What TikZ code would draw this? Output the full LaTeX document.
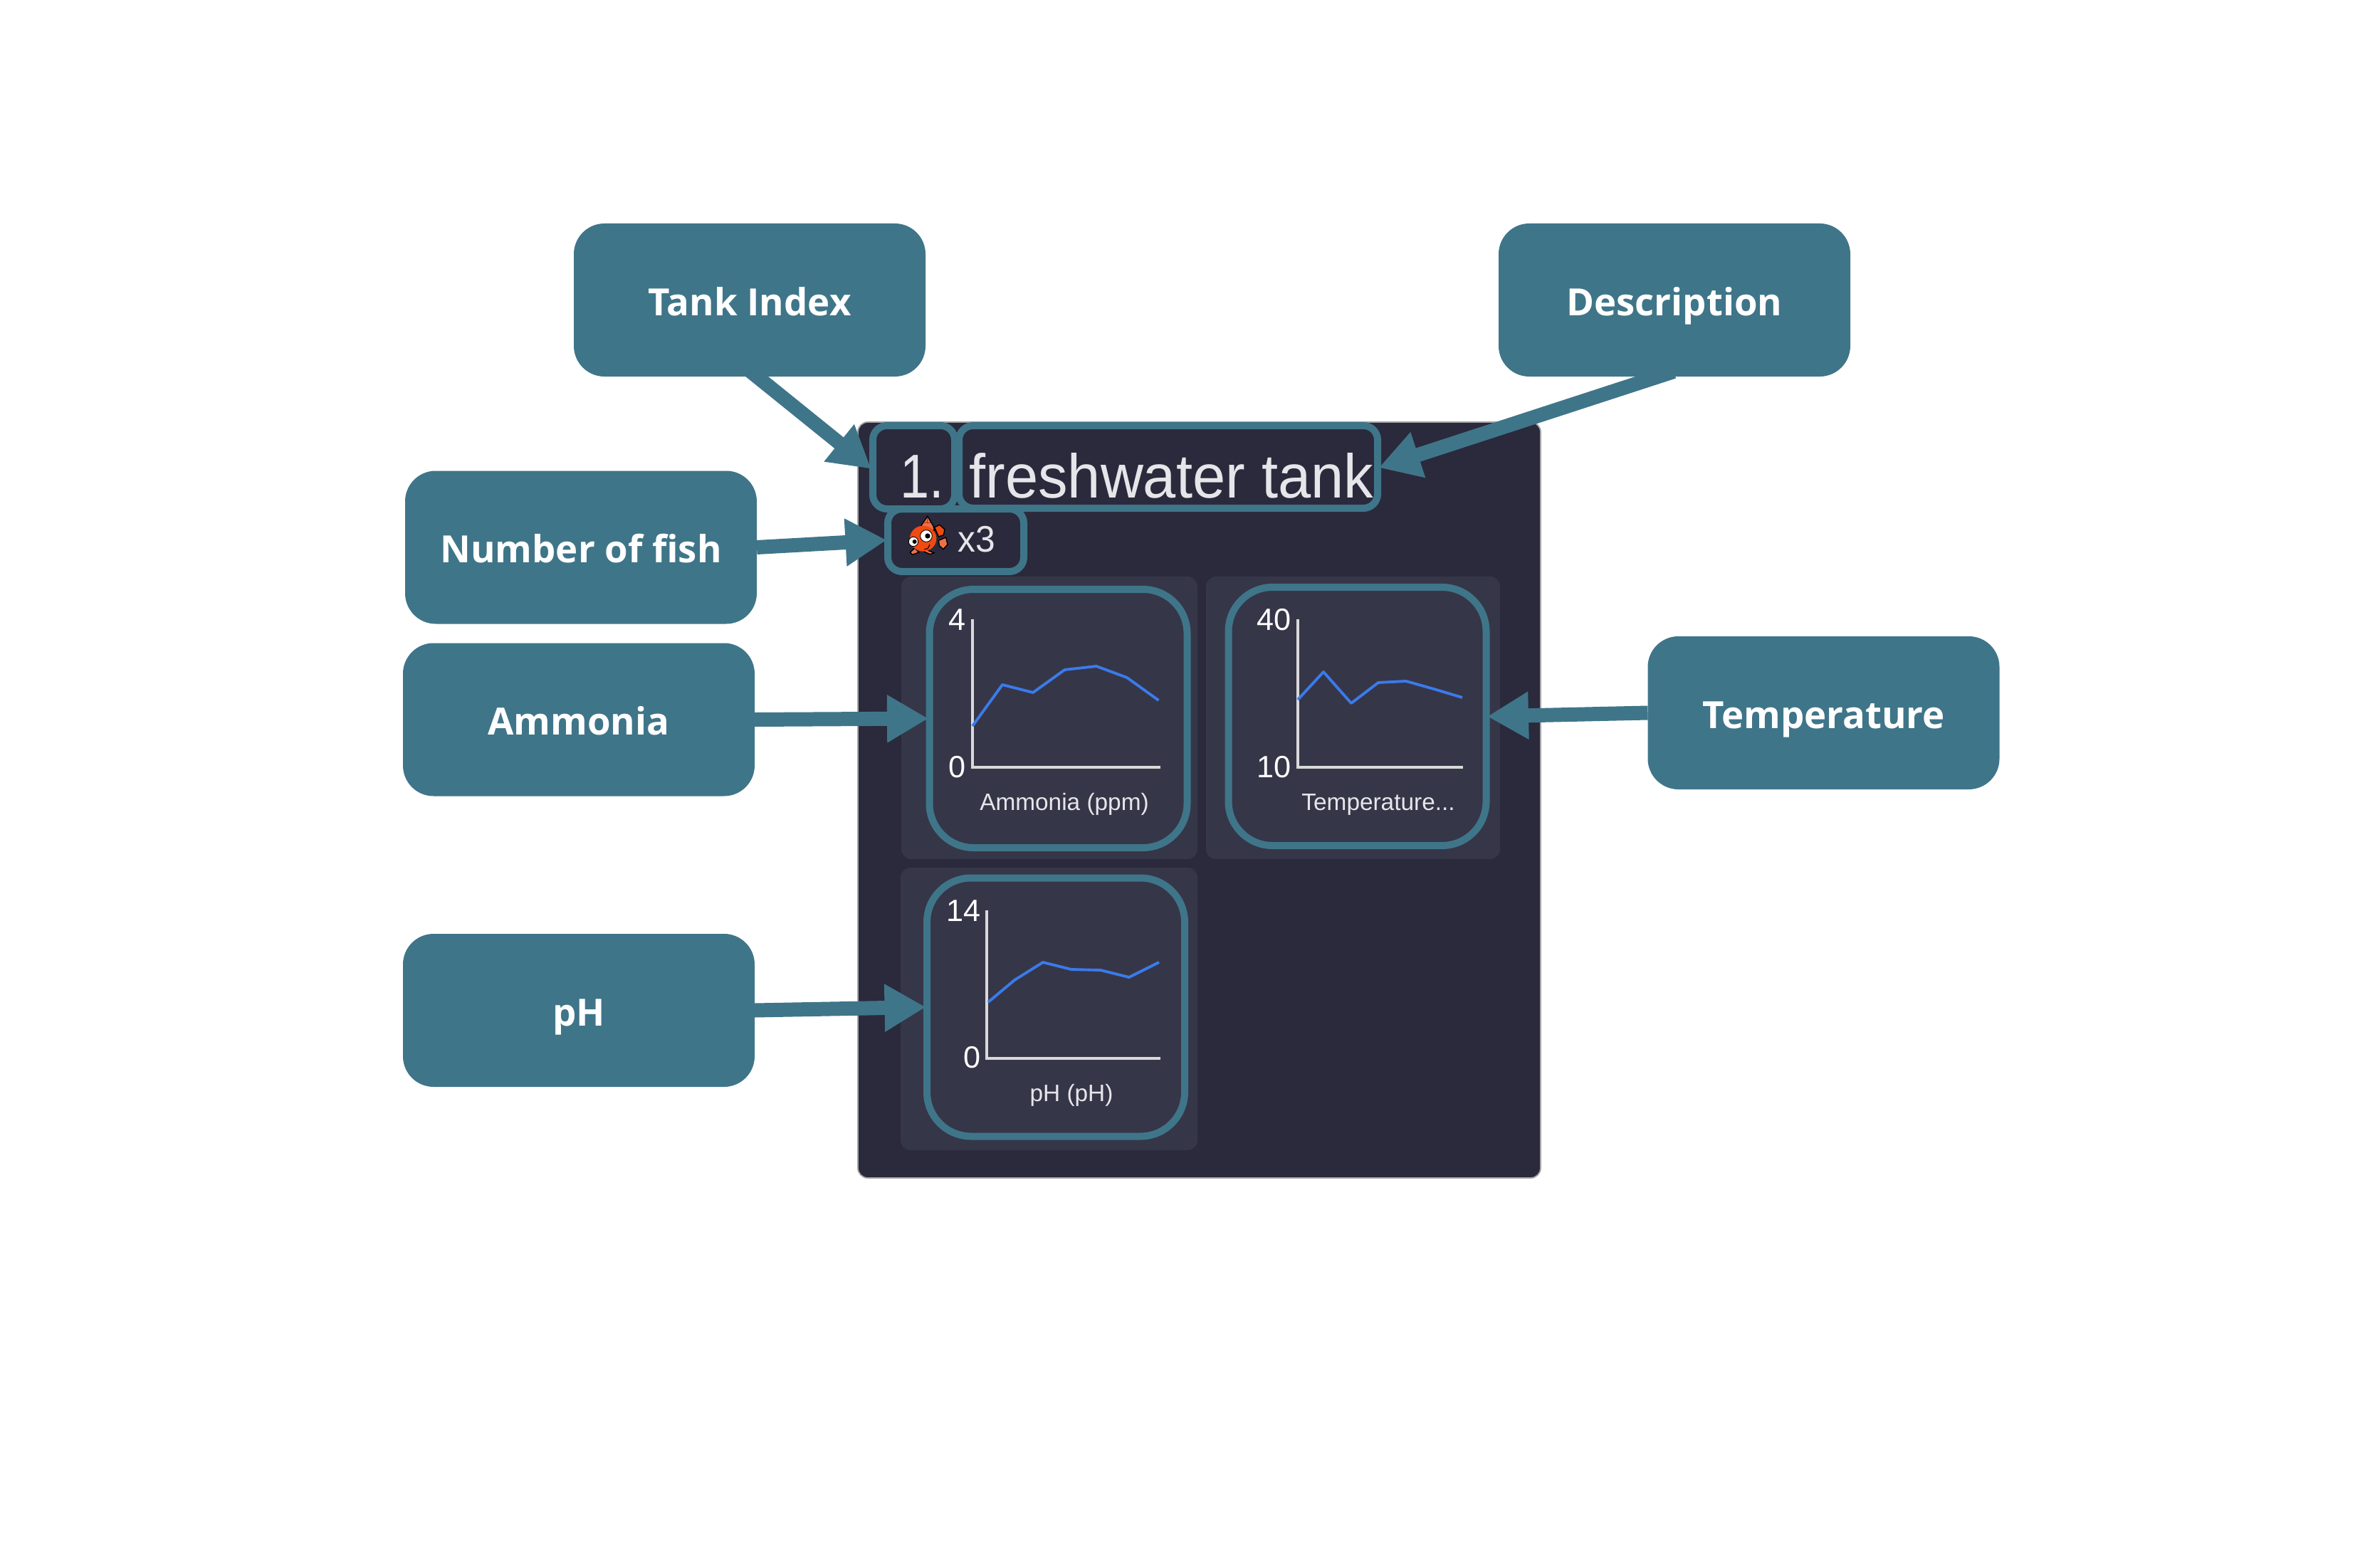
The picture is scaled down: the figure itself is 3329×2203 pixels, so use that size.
\documentclass[tikz,border=0pt]{standalone}
\usepackage{fontspec}
\setmainfont{Liberation Sans}
\newfontfamily\callfont[Ligatures=TeX]{Open Sans}
\usetikzlibrary{arrows.meta}
\definecolor{teal1}{HTML}{3F7589}
\definecolor{panelc}{HTML}{2A2A3C}
\definecolor{tilec}{HTML}{363649}
\definecolor{serie}{HTML}{3A7BEA}
\definecolor{axisc}{HTML}{D9D9D9}
\definecolor{txtc}{HTML}{E6E6EA}
\definecolor{fishc}{HTML}{EE4A12}
\definecolor{fishl}{HTML}{EE7048}
\def\pxu{0.02cm}
\tikzset{
  callout/.style={fill=teal1,rounded corners=43*\pxu,minimum width=494*\pxu,minimum height=215*\pxu,inner sep=0pt,outer sep=0pt,
    text=white,font=\callfont\bfseries\fontsize{30}{36}\selectfont,text height=25pt,text depth=0pt,align=center},
  hlsmall/.style={draw=teal1,line width=10*\pxu,rounded corners=20*\pxu,inner sep=0pt},
  hlbig/.style={draw=teal1,line width=10*\pxu,rounded corners=62*\pxu,minimum width=362*\pxu,minimum height=363*\pxu,inner sep=0pt},
  tile/.style={fill=tilec,rounded corners=14*\pxu},
  callarrow/.style={draw=teal1,line width=11.38pt,shorten >=-2pt,-{Triangle[length=33pt,width=36pt,fill=teal1]}},
  axisl/.style={draw=axisc,line width=1.9pt},
  seriesl/.style={draw=serie,line width=2.2pt,line join=round},
  tick/.style={text=white,font=\fontsize{24.6}{28}\selectfont,anchor=base east,inner sep=0pt},
  chartname/.style={text=txtc,font=\fontsize{19}{23}\selectfont,anchor=base,inner sep=0pt},
  fishpart/.style={draw=black,line width=.8pt,line join=miter},
}
\begin{document}
\begin{tikzpicture}[x=0.02cm,y=-0.02cm]
\useasboundingbox (0,0) rectangle (3329,2203);
\fill[white] (0,0) rectangle (3329,2203);
% panel
\draw[draw=gray!70,fill=panelc,line width=1pt,rounded corners=14*\pxu] (1205,593) rectangle (2164,1655);
\fill[tile] (1266,810) rectangle (1682,1207);
\fill[tile] (1694,810) rectangle (2107,1207);
\fill[tile] (1265,1219) rectangle (1682,1616);
% title texts
\node[anchor=base west,inner sep=0pt,text=txtc,font=\fontsize{49.5}{56}\selectfont] (tnum) at (1264,699) {\scalebox{.85}[1]{1.}};
\node[anchor=base west,inner sep=0pt,text=txtc,font=\fontsize{49.5}{56}\selectfont] (tname) at (1361,699) {\scalebox{.955}[1]{freshwater tank}};
\node[anchor=base west,inner sep=0pt,text=txtc,font=\fontsize{29.5}{34}\selectfont] (tcount) at (1345,775) {\scalebox{.96}[1]{x3}};
% fish
\begin{scope}[shift={(1270,720)},x=0.00667cm,y=-0.00667cm]
  \filldraw[fishpart,fill=fishl] (72,55) -- (98,16) -- (122,55) -- (128,75) -- (80,70) -- cycle;
  \draw[fishc!70!black,line width=.6pt] (80,44) -- (112,44) (98,20) -- (98,44);
  \filldraw[fishpart,fill=fishc] (128,62) -- (150,52) -- (171,72) -- (166,95) -- (145,102) -- cycle;
  \filldraw[fishpart,fill=fishl] (145,118) -- (176,105) -- (183,135) -- (165,155) -- (148,140) -- cycle;
  \filldraw[fishpart,fill=fishl] (25,168) -- (45,150) -- (62,168) -- (35,178) -- cycle;
  \filldraw[fishpart,fill=fishl] (88,155) -- (126,170) -- (110,176) -- (85,166) -- cycle;
  \fill[fishc] (80,110) ellipse [x radius=56,y radius=54];
  \draw[black,line width=.6pt] (85,155) -- (100,152) -- (108,135);
  \fill[white] (39,123) circle [radius=20];
  \draw[black,line width=.5pt] (39,123) circle [radius=20];
  \fill[black] (44,123) circle [radius=9];
  \fill[white] (93,99) circle [radius=25];
  \draw[black,line width=.5pt] (93,99) circle [radius=25];
  \fill[black] (99,99) circle [radius=11];
\end{scope}
% ammonia chart
\draw[axisl] (1366,870) -- (1366,1078) -- (1630,1078);
\draw[seriesl] (1366,1020) -- (1408,962) -- (1451,973) -- (1495.5,941) -- (1540,936) -- (1583,952) -- (1627.5,984);
\node[tick] (a4) at (1357,885) {4};
\node[tick] (a0) at (1357,1092) {0};
\node[chartname] (aname) at (1495,1138) {Ammonia (ppm)};
% temperature chart
\draw[axisl] (1823,870) -- (1823,1078) -- (2055,1078);
\draw[seriesl] (1823,983) -- (1859,944) -- (1898,988) -- (1936,959) -- (1975,957) -- (2014,968) -- (2054,980);
\node[tick] (t40) at (1814,885) {40};
\node[tick] (t10) at (1814,1092) {10};
\node[chartname] (tempname) at (1936,1138) {Temperature...};
% pH chart
\draw[axisl] (1386,1279) -- (1386,1487) -- (1630,1487);
\draw[seriesl] (1388,1408) -- (1425,1377) -- (1465,1352) -- (1505,1362) -- (1546,1363) -- (1586,1373) -- (1628,1352);
\node[tick] (p14) at (1378,1294) {14};
\node[tick] (p0) at (1378,1500) {0};
\node[chartname] (pname) at (1505,1547) {pH (pH)};
% highlight frames
\node[hlsmall,minimum width=115*\pxu,minimum height=117*\pxu] (idx) at (1283.5,656.5) {};
\node[hlsmall,minimum width=588*\pxu,minimum height=116*\pxu] (desc) at (1641,656) {};
\node[hlsmall,minimum width=191*\pxu,minimum height=88*\pxu] (fish) at (1342.5,759) {};
\node[hlbig] (hamm) at (1486.5,1009.5) {};
\node[hlbig] (htemp) at (1906.5,1006.5) {};
\node[hlbig] (hph) at (1483,1415) {};
% callouts
\node[callout] (ctank) at (1053,421.5) {Tank Index};
\node[callout] (cdesc) at (2352,421.5) {Description};
\node[callout] (cfish) at (816,769) {Number of fish};
\node[callout] (camm) at (813,1011) {Ammonia};
\node[callout] (ctemp) at (2561.5,1001.5) {Temperature};
\node[callout] (cph) at (813,1419.5) {pH};
% connector free ends inside the callouts
\coordinate (tankout) at (1047,516);
\coordinate (descout) at (2351,522);
\draw[callarrow] (tankout) -- (idx.west);
\draw[callarrow] (descout) -- (desc.east);
\draw[callarrow] (cfish.east) -- (fish.west);
\draw[callarrow] (camm.east) -- (hamm.west);
\draw[callarrow] (ctemp.west) -- (htemp.east);
\draw[callarrow] (cph.east) -- (hph.west);
\end{tikzpicture}
\end{document}
